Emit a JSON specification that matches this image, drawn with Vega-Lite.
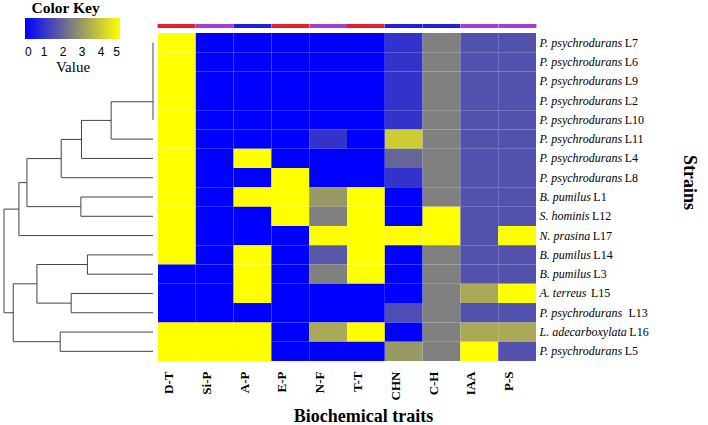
{
  "$schema": "https://vega.github.io/schema/vega-lite/v6.json",
  "padding": {"left": 3, "top": 0, "right": 2, "bottom": 0},
  "bounds": "flush",
  "spacing": 5,
  "config": {"view": {"stroke": null}, "font": "Liberation Serif"},
  "datasets": {
    "tree": [
      {"h": 0, "h2": 0, "p": 1, "p2": 5},
      {"h": 0, "h2": 2.81, "p": 4.0625, "p2": 4.0625},
      {"h": 0, "h2": 2.81, "p": 6, "p2": 6},
      {"h": 2.81, "h2": 2.81, "p": 4.0625, "p2": 6},
      {"h": 2.81, "h2": 4.8, "p": 5.031, "p2": 5.031},
      {"h": 0, "h2": 4.8, "p": 7, "p2": 7},
      {"h": 4.8, "h2": 4.8, "p": 5.031, "p2": 7},
      {"h": 4.8, "h2": 6.16, "p": 6.016, "p2": 6.016},
      {"h": 0, "h2": 6.16, "p": 8, "p2": 8},
      {"h": 6.16, "h2": 6.16, "p": 6.016, "p2": 8},
      {"h": 0, "h2": 4.84, "p": 9, "p2": 9},
      {"h": 0, "h2": 4.84, "p": 10, "p2": 10},
      {"h": 4.84, "h2": 4.84, "p": 9, "p2": 10},
      {"h": 6.16, "h2": 8.46, "p": 7.008, "p2": 7.008},
      {"h": 4.84, "h2": 8.46, "p": 9.5, "p2": 9.5},
      {"h": 8.46, "h2": 8.46, "p": 7.008, "p2": 9.5},
      {"h": 8.46, "h2": 9.0, "p": 8.254, "p2": 8.254},
      {"h": 0, "h2": 9.0, "p": 11, "p2": 11},
      {"h": 9.0, "h2": 9.0, "p": 8.254, "p2": 11},
      {"h": 9.0, "h2": 10, "p": 9.627, "p2": 9.627},
      {"h": 0, "h2": 4.4, "p": 12, "p2": 12},
      {"h": 0, "h2": 4.4, "p": 13, "p2": 13},
      {"h": 4.4, "h2": 4.4, "p": 12, "p2": 13},
      {"h": 0, "h2": 5.49, "p": 14, "p2": 14},
      {"h": 0, "h2": 5.49, "p": 15, "p2": 15},
      {"h": 5.49, "h2": 5.49, "p": 14, "p2": 15},
      {"h": 4.4, "h2": 7.79, "p": 12.5, "p2": 12.5},
      {"h": 5.49, "h2": 7.79, "p": 14.5, "p2": 14.5},
      {"h": 7.79, "h2": 7.79, "p": 12.5, "p2": 14.5},
      {"h": 0, "h2": 6.23, "p": 16, "p2": 16},
      {"h": 0, "h2": 6.23, "p": 17, "p2": 17},
      {"h": 6.23, "h2": 6.23, "p": 16, "p2": 17},
      {"h": 7.79, "h2": 9.38, "p": 13.5, "p2": 13.5},
      {"h": 6.23, "h2": 9.38, "p": 16.5, "p2": 16.5},
      {"h": 9.38, "h2": 9.38, "p": 13.5, "p2": 16.5},
      {"h": 9.38, "h2": 10, "p": 15, "p2": 15},
      {"h": 10, "h2": 10, "p": 9.627, "p2": 15}
    ],
    "cells": [
      {"s": "P. psychrodurans L7", "t": "D-T", "v": 5}, {"s": "P. psychrodurans L7", "t": "Si-P", "v": 0}, {"s": "P. psychrodurans L7", "t": "A-P", "v": 0}, {"s": "P. psychrodurans L7", "t": "E-P", "v": 0}, {"s": "P. psychrodurans L7", "t": "N-F", "v": 0}, {"s": "P. psychrodurans L7", "t": "T-T", "v": 0}, {"s": "P. psychrodurans L7", "t": "CHN", "v": 1}, {"s": "P. psychrodurans L7", "t": "C-H", "v": 2.5}, {"s": "P. psychrodurans L7", "t": "IAA", "v": 1.6}, {"s": "P. psychrodurans L7", "t": "P-S", "v": 1.6},
      {"s": "P. psychrodurans L6", "t": "D-T", "v": 5}, {"s": "P. psychrodurans L6", "t": "Si-P", "v": 0}, {"s": "P. psychrodurans L6", "t": "A-P", "v": 0}, {"s": "P. psychrodurans L6", "t": "E-P", "v": 0}, {"s": "P. psychrodurans L6", "t": "N-F", "v": 0}, {"s": "P. psychrodurans L6", "t": "T-T", "v": 0}, {"s": "P. psychrodurans L6", "t": "CHN", "v": 1}, {"s": "P. psychrodurans L6", "t": "C-H", "v": 2.5}, {"s": "P. psychrodurans L6", "t": "IAA", "v": 1.6}, {"s": "P. psychrodurans L6", "t": "P-S", "v": 1.6},
      {"s": "P. psychrodurans L9", "t": "D-T", "v": 5}, {"s": "P. psychrodurans L9", "t": "Si-P", "v": 0}, {"s": "P. psychrodurans L9", "t": "A-P", "v": 0}, {"s": "P. psychrodurans L9", "t": "E-P", "v": 0}, {"s": "P. psychrodurans L9", "t": "N-F", "v": 0}, {"s": "P. psychrodurans L9", "t": "T-T", "v": 0}, {"s": "P. psychrodurans L9", "t": "CHN", "v": 1}, {"s": "P. psychrodurans L9", "t": "C-H", "v": 2.5}, {"s": "P. psychrodurans L9", "t": "IAA", "v": 1.6}, {"s": "P. psychrodurans L9", "t": "P-S", "v": 1.6},
      {"s": "P. psychrodurans L2", "t": "D-T", "v": 5}, {"s": "P. psychrodurans L2", "t": "Si-P", "v": 0}, {"s": "P. psychrodurans L2", "t": "A-P", "v": 0}, {"s": "P. psychrodurans L2", "t": "E-P", "v": 0}, {"s": "P. psychrodurans L2", "t": "N-F", "v": 0}, {"s": "P. psychrodurans L2", "t": "T-T", "v": 0}, {"s": "P. psychrodurans L2", "t": "CHN", "v": 1}, {"s": "P. psychrodurans L2", "t": "C-H", "v": 2.5}, {"s": "P. psychrodurans L2", "t": "IAA", "v": 1.6}, {"s": "P. psychrodurans L2", "t": "P-S", "v": 1.6},
      {"s": "P. psychrodurans L10", "t": "D-T", "v": 5}, {"s": "P. psychrodurans L10", "t": "Si-P", "v": 0}, {"s": "P. psychrodurans L10", "t": "A-P", "v": 0}, {"s": "P. psychrodurans L10", "t": "E-P", "v": 0}, {"s": "P. psychrodurans L10", "t": "N-F", "v": 0}, {"s": "P. psychrodurans L10", "t": "T-T", "v": 0}, {"s": "P. psychrodurans L10", "t": "CHN", "v": 1}, {"s": "P. psychrodurans L10", "t": "C-H", "v": 2.5}, {"s": "P. psychrodurans L10", "t": "IAA", "v": 1.6}, {"s": "P. psychrodurans L10", "t": "P-S", "v": 1.6},
      {"s": "P. psychrodurans L11", "t": "D-T", "v": 5}, {"s": "P. psychrodurans L11", "t": "Si-P", "v": 0}, {"s": "P. psychrodurans L11", "t": "A-P", "v": 0}, {"s": "P. psychrodurans L11", "t": "E-P", "v": 0}, {"s": "P. psychrodurans L11", "t": "N-F", "v": 1}, {"s": "P. psychrodurans L11", "t": "T-T", "v": 0}, {"s": "P. psychrodurans L11", "t": "CHN", "v": 4}, {"s": "P. psychrodurans L11", "t": "C-H", "v": 2.5}, {"s": "P. psychrodurans L11", "t": "IAA", "v": 1.6}, {"s": "P. psychrodurans L11", "t": "P-S", "v": 1.6},
      {"s": "P. psychrodurans L4", "t": "D-T", "v": 5}, {"s": "P. psychrodurans L4", "t": "Si-P", "v": 0}, {"s": "P. psychrodurans L4", "t": "A-P", "v": 5}, {"s": "P. psychrodurans L4", "t": "E-P", "v": 0}, {"s": "P. psychrodurans L4", "t": "N-F", "v": 0}, {"s": "P. psychrodurans L4", "t": "T-T", "v": 0}, {"s": "P. psychrodurans L4", "t": "CHN", "v": 2}, {"s": "P. psychrodurans L4", "t": "C-H", "v": 2.5}, {"s": "P. psychrodurans L4", "t": "IAA", "v": 1.6}, {"s": "P. psychrodurans L4", "t": "P-S", "v": 1.6},
      {"s": "P. psychrodurans L8", "t": "D-T", "v": 5}, {"s": "P. psychrodurans L8", "t": "Si-P", "v": 0}, {"s": "P. psychrodurans L8", "t": "A-P", "v": 0}, {"s": "P. psychrodurans L8", "t": "E-P", "v": 5}, {"s": "P. psychrodurans L8", "t": "N-F", "v": 0}, {"s": "P. psychrodurans L8", "t": "T-T", "v": 0}, {"s": "P. psychrodurans L8", "t": "CHN", "v": 1}, {"s": "P. psychrodurans L8", "t": "C-H", "v": 2.5}, {"s": "P. psychrodurans L8", "t": "IAA", "v": 1.6}, {"s": "P. psychrodurans L8", "t": "P-S", "v": 1.6},
      {"s": "B. pumilus L1", "t": "D-T", "v": 5}, {"s": "B. pumilus L1", "t": "Si-P", "v": 0}, {"s": "B. pumilus L1", "t": "A-P", "v": 5}, {"s": "B. pumilus L1", "t": "E-P", "v": 5}, {"s": "B. pumilus L1", "t": "N-F", "v": 3}, {"s": "B. pumilus L1", "t": "T-T", "v": 5}, {"s": "B. pumilus L1", "t": "CHN", "v": 0}, {"s": "B. pumilus L1", "t": "C-H", "v": 2.5}, {"s": "B. pumilus L1", "t": "IAA", "v": 1.6}, {"s": "B. pumilus L1", "t": "P-S", "v": 1.6},
      {"s": "S. hominis L12", "t": "D-T", "v": 5}, {"s": "S. hominis L12", "t": "Si-P", "v": 0}, {"s": "S. hominis L12", "t": "A-P", "v": 0}, {"s": "S. hominis L12", "t": "E-P", "v": 5}, {"s": "S. hominis L12", "t": "N-F", "v": 2.5}, {"s": "S. hominis L12", "t": "T-T", "v": 5}, {"s": "S. hominis L12", "t": "CHN", "v": 0}, {"s": "S. hominis L12", "t": "C-H", "v": 5}, {"s": "S. hominis L12", "t": "IAA", "v": 1.6}, {"s": "S. hominis L12", "t": "P-S", "v": 1.6},
      {"s": "N. prasina L17", "t": "D-T", "v": 5}, {"s": "N. prasina L17", "t": "Si-P", "v": 0}, {"s": "N. prasina L17", "t": "A-P", "v": 0}, {"s": "N. prasina L17", "t": "E-P", "v": 0}, {"s": "N. prasina L17", "t": "N-F", "v": 5}, {"s": "N. prasina L17", "t": "T-T", "v": 5}, {"s": "N. prasina L17", "t": "CHN", "v": 5}, {"s": "N. prasina L17", "t": "C-H", "v": 5}, {"s": "N. prasina L17", "t": "IAA", "v": 1.6}, {"s": "N. prasina L17", "t": "P-S", "v": 5},
      {"s": "B. pumilus L14", "t": "D-T", "v": 5}, {"s": "B. pumilus L14", "t": "Si-P", "v": 0}, {"s": "B. pumilus L14", "t": "A-P", "v": 5}, {"s": "B. pumilus L14", "t": "E-P", "v": 0}, {"s": "B. pumilus L14", "t": "N-F", "v": 1.7}, {"s": "B. pumilus L14", "t": "T-T", "v": 5}, {"s": "B. pumilus L14", "t": "CHN", "v": 0}, {"s": "B. pumilus L14", "t": "C-H", "v": 2.5}, {"s": "B. pumilus L14", "t": "IAA", "v": 1.6}, {"s": "B. pumilus L14", "t": "P-S", "v": 1.6},
      {"s": "B. pumilus L3", "t": "D-T", "v": 0}, {"s": "B. pumilus L3", "t": "Si-P", "v": 0}, {"s": "B. pumilus L3", "t": "A-P", "v": 5}, {"s": "B. pumilus L3", "t": "E-P", "v": 0}, {"s": "B. pumilus L3", "t": "N-F", "v": 2.5}, {"s": "B. pumilus L3", "t": "T-T", "v": 5}, {"s": "B. pumilus L3", "t": "CHN", "v": 0}, {"s": "B. pumilus L3", "t": "C-H", "v": 2.5}, {"s": "B. pumilus L3", "t": "IAA", "v": 1.6}, {"s": "B. pumilus L3", "t": "P-S", "v": 1.6},
      {"s": "A. terreus L15", "t": "D-T", "v": 0}, {"s": "A. terreus L15", "t": "Si-P", "v": 0}, {"s": "A. terreus L15", "t": "A-P", "v": 5}, {"s": "A. terreus L15", "t": "E-P", "v": 0}, {"s": "A. terreus L15", "t": "N-F", "v": 0}, {"s": "A. terreus L15", "t": "T-T", "v": 0}, {"s": "A. terreus L15", "t": "CHN", "v": 0}, {"s": "A. terreus L15", "t": "C-H", "v": 2.5}, {"s": "A. terreus L15", "t": "IAA", "v": 3.3}, {"s": "A. terreus L15", "t": "P-S", "v": 5},
      {"s": "P. psychrodurans L13", "t": "D-T", "v": 0}, {"s": "P. psychrodurans L13", "t": "Si-P", "v": 0}, {"s": "P. psychrodurans L13", "t": "A-P", "v": 0}, {"s": "P. psychrodurans L13", "t": "E-P", "v": 0}, {"s": "P. psychrodurans L13", "t": "N-F", "v": 0}, {"s": "P. psychrodurans L13", "t": "T-T", "v": 0}, {"s": "P. psychrodurans L13", "t": "CHN", "v": 1.5}, {"s": "P. psychrodurans L13", "t": "C-H", "v": 2.5}, {"s": "P. psychrodurans L13", "t": "IAA", "v": 1.6}, {"s": "P. psychrodurans L13", "t": "P-S", "v": 1.6},
      {"s": "L. adecarboxylata L16", "t": "D-T", "v": 5}, {"s": "L. adecarboxylata L16", "t": "Si-P", "v": 5}, {"s": "L. adecarboxylata L16", "t": "A-P", "v": 5}, {"s": "L. adecarboxylata L16", "t": "E-P", "v": 0}, {"s": "L. adecarboxylata L16", "t": "N-F", "v": 3.3}, {"s": "L. adecarboxylata L16", "t": "T-T", "v": 5}, {"s": "L. adecarboxylata L16", "t": "CHN", "v": 0}, {"s": "L. adecarboxylata L16", "t": "C-H", "v": 2.5}, {"s": "L. adecarboxylata L16", "t": "IAA", "v": 3.3}, {"s": "L. adecarboxylata L16", "t": "P-S", "v": 3.3},
      {"s": "P. psychrodurans L5", "t": "D-T", "v": 5}, {"s": "P. psychrodurans L5", "t": "Si-P", "v": 5}, {"s": "P. psychrodurans L5", "t": "A-P", "v": 5}, {"s": "P. psychrodurans L5", "t": "E-P", "v": 0}, {"s": "P. psychrodurans L5", "t": "N-F", "v": 0}, {"s": "P. psychrodurans L5", "t": "T-T", "v": 0}, {"s": "P. psychrodurans L5", "t": "CHN", "v": 3}, {"s": "P. psychrodurans L5", "t": "C-H", "v": 2.5}, {"s": "P. psychrodurans L5", "t": "IAA", "v": 5}, {"s": "P. psychrodurans L5", "t": "P-S", "v": 1.6}
    ]
  },
  "hconcat": [
    {
      "width": 149,
      "height": 328,
      "title": {"text": "Color Key", "anchor": "start", "dx": 28, "offset": 17, "font": "Liberation Serif", "fontSize": 15.5, "fontWeight": "bold", "color": "black"},
      "data": {"name": "tree"},
      "mark": {"type": "rule", "color": "#444444", "strokeWidth": 1},
      "encoding": {
        "x": {"field": "h", "type": "quantitative", "scale": {"domain": [0, 10], "reverse": true, "nice": false, "zero": false}, "axis": null},
        "x2": {"field": "h2"},
        "y": {"field": "p", "type": "quantitative", "scale": {"domain": [0.5, 17.5], "reverse": true, "nice": false, "zero": false}, "axis": null},
        "y2": {"field": "p2"}
      }
    },
    {
      "width": 378,
      "height": 328,
      "data": {"name": "cells"},
      "resolve": {"axis": {"x": "independent", "y": "independent"}},
      "layer": [
        {
          "mark": {"type": "rect"},
          "encoding": {
            "x": {"field": "t", "type": "nominal", "sort": ["D-T","Si-P","A-P","E-P","N-F","T-T","CHN","C-H","IAA","P-S"],
              "axis": {"orient": "bottom", "domain": false, "ticks": false, "tickSize": 0, "labelAngle": -90, "labelFont": "Liberation Serif", "labelFontWeight": "bold", "labelFontSize": 13, "labelColor": "black", "labelPadding": 10, "labelOffset": -8, "title": "Biochemical traits", "titleFont": "Liberation Serif", "titleFontSize": 18, "titleFontWeight": "bold", "titleColor": "black", "titlePadding": 8, "titleX": 205}},
            "y": {"field": "s", "type": "nominal", "sort": ["P. psychrodurans L7","P. psychrodurans L6","P. psychrodurans L9","P. psychrodurans L2","P. psychrodurans L10","P. psychrodurans L11","P. psychrodurans L4","P. psychrodurans L8","B. pumilus L1","S. hominis L12","N. prasina L17","B. pumilus L14","B. pumilus L3","A. terreus L15","P. psychrodurans L13","L. adecarboxylata L16","P. psychrodurans L5"],
              "axis": {"orient": "right", "domain": false, "ticks": false, "tickSize": 0, "labelFont": "Liberation Serif", "labelFontStyle": "italic", "labelFontSize": 12, "labelColor": "black", "labelPadding": 3, "labelLimit": 0, "labelExpr": "slice(datum.label, 0, lastindexof(datum.label, ' '))", "title": null}},
            "color": {"field": "v", "type": "quantitative",
              "scale": {"domain": [0, 2.5, 5], "range": ["#0000ff", "#808080", "#ffff00"], "interpolate": "rgb"},
              "legend": {"orient": "none", "legendX": 21, "legendY": -15, "direction": "horizontal", "gradientLength": 95, "gradientThickness": 21, "gradientStrokeWidth": 0, "values": [0, 1, 2, 3, 4, 5], "labelFont": "Liberation Sans", "labelFontSize": 12, "labelColor": "black", "labelOffset": 8, "title": "Value", "titleOrient": "bottom", "titleAnchor": "middle", "titleFont": "Liberation Serif", "titleFontSize": 15, "titleFontWeight": "normal", "titleColor": "black", "titlePadding": 2}}
          }
        },
        {
          "mark": {"type": "rect", "opacity": 0},
          "encoding": {
            "x": {"field": "t", "type": "nominal", "sort": ["D-T","Si-P","A-P","E-P","N-F","T-T","CHN","C-H","IAA","P-S"],
              "axis": {"orient": "top", "labels": false, "domain": false, "ticks": true, "grid": false, "tickSize": 4, "tickWidth": 37.8, "bandPosition": 0.5, "offset": 5.5, "title": null,
                "tickColor": {"condition": [{"test": "indexof(['D-T','E-P','T-T'], datum.value) >= 0", "value": "#e4202a"}, {"test": "indexof(['A-P','CHN','C-H'], datum.value) >= 0", "value": "#2121d8"}], "value": "#a23fd4"}}},
            "y": {"field": "s", "type": "nominal", "sort": ["P. psychrodurans L7","P. psychrodurans L6","P. psychrodurans L9","P. psychrodurans L2","P. psychrodurans L10","P. psychrodurans L11","P. psychrodurans L4","P. psychrodurans L8","B. pumilus L1","S. hominis L12","N. prasina L17","B. pumilus L14","B. pumilus L3","A. terreus L15","P. psychrodurans L13","L. adecarboxylata L16","P. psychrodurans L5"],
              "axis": {"orient": "right", "domain": false, "ticks": false, "tickSize": 0, "labelFont": "Liberation Serif", "labelFontSize": 12, "labelColor": "black", "labelLimit": 0, "labelExpr": "slice(datum.label, lastindexof(datum.label, ' ') + 1)",
                "labelPadding": {"condition": [
                  {"test": "datum.value == 'P. psychrodurans L13'", "value": 92},
                  {"test": "indexof(datum.value, 'P.') == 0", "value": 88.2},
                  {"test": "indexof(datum.value, 'L.') == 0", "value": 92.8},
                  {"test": "indexof(datum.value, 'B.') == 0", "value": 56.8},
                  {"test": "indexof(datum.value, 'S.') == 0", "value": 55.5},
                  {"test": "indexof(datum.value, 'N.') == 0", "value": 56.2}], "value": 54.5},
                "title": "Strains", "titleFont": "Liberation Serif", "titleFontSize": 18, "titleFontWeight": "bold", "titleColor": "black", "titlePadding": 31, "titleY": 149}}
          }
        }
      ]
    }
  ]
}
